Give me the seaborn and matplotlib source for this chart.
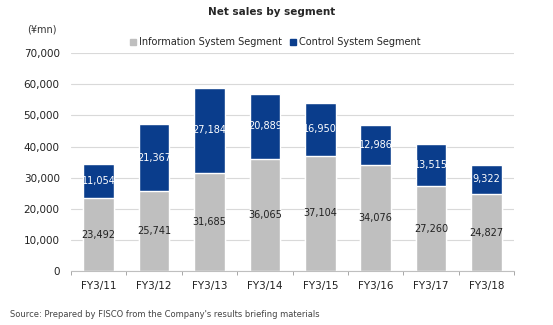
import matplotlib
matplotlib.use("Agg")
import matplotlib.pyplot as plt
import seaborn as sns
import pandas as pd
from matplotlib.patches import Patch

categories = ["FY3/11", "FY3/12", "FY3/13", "FY3/14", "FY3/15", "FY3/16", "FY3/17", "FY3/18"]
info_sys = [23492, 25741, 31685, 36065, 37104, 34076, 27260, 24827]
ctrl_sys = [11054, 21367, 27184, 20889, 16950, 12986, 13515, 9322]
yticks = [0, 10000, 20000, 30000, 40000, 50000, 60000, 70000]

GRAY = "#BFBFBF"
NAVY = "#0A3D8C"

sns.set_theme(style="white")
plt.rcParams["font.family"] = ["DejaVu Sans"]

df = pd.DataFrame({"cat": categories, "info": info_sys, "ctrl": ctrl_sys})
df["total"] = df["info"] + df["ctrl"]

fig = plt.figure(figsize=(5.53, 3.25), dpi=100)
ax = fig.add_axes([0.128, 0.165, 0.802, 0.672])

sns.barplot(data=df, x="cat", y="total", color=NAVY, width=0.55, ax=ax, saturation=1)
sns.barplot(data=df, x="cat", y="info", color=GRAY, width=0.55, ax=ax, saturation=1)

ax.set_ylim(0, 70000)
ax.set_yticks(yticks)
ax.set_yticklabels([f"{v:,}" for v in yticks], fontsize=7.5, color="#222222")
ax.set_xlim(-0.5, len(categories) - 0.5)
ax.set_xticks(range(len(categories)))
ax.set_xticklabels(categories, fontsize=7.5, color="#222222")
ax.tick_params(axis="x", which="major", bottom=False, length=0, pad=7)
ax.tick_params(axis="y", length=0, pad=8)
ax.set_xlabel("")
ax.set_ylabel("")
ax.grid(axis="y", color="#D9D9D9", linewidth=0.8)
ax.set_axisbelow(True)
for s in ["top", "right", "left"]:
    ax.spines[s].set_visible(False)
ax.spines["bottom"].set_color("#BFBFBF")
ax.spines["bottom"].set_linewidth(0.8)
# boundary ticks between categories
ax.set_xticks([i - 0.5 for i in range(len(categories) + 1)], minor=True)
ax.tick_params(axis="x", which="minor", bottom=True, length=3, color="#999999", width=0.6, direction="out")

for i, (a, b) in enumerate(zip(info_sys, ctrl_sys)):
    ax.text(i, a / 2, f"{a:,}", ha="center", va="center", fontsize=7, color="#222222")
    ax.text(i, a + b / 2, f"{b:,}", ha="center", va="center", fontsize=7, color="white")

fig.text(0.492, 0.963, "Net sales by segment", ha="center", va="center", fontsize=7.5, fontweight="bold")
fig.text(0.075, 0.91, "(¥mn)", ha="center", va="center", fontsize=7, color="#333333")
handles = [Patch(color=GRAY, label="Information System Segment"),
           Patch(color=NAVY, label="Control System Segment")]
fig.legend(handles=handles, loc="center", bbox_to_anchor=(0.498, 0.87), ncol=2, frameon=False,
           fontsize=7, handlelength=0.6, handleheight=0.6, handletextpad=0.3, columnspacing=0.8)
fig.text(0.018, 0.033, "Source: Prepared by FISCO from the Company's results briefing materials",
         ha="left", va="center", fontsize=6, color="#444444")

fig.savefig("out.png", dpi=100)
